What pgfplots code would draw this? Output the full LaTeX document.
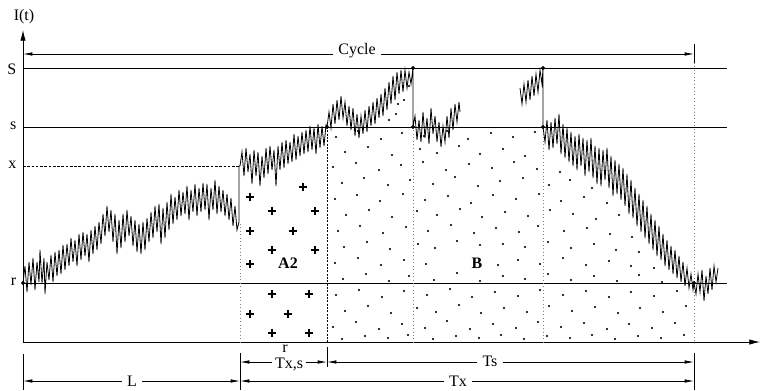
\documentclass[border=0pt]{standalone}
\usepackage{pgfplots}
\pgfplotsset{compat=1.18}
\usepackage{fontspec}
\setmainfont{Liberation Serif}
\usetikzlibrary{arrows.meta}
\newcommand{\fs}{\fontsize{12}{14}\selectfont}
\begin{document}
\begin{tikzpicture}
\begin{axis}[hide axis, scale only axis, width=572.25pt, height=292.5pt,
  xmin=0, xmax=763, ymin=0, ymax=390, y dir=reverse, clip=false,
  every axis plot/.append style={line width=0.6pt}]
\addplot[draw=none] coordinates {(0,0) (763,390)};
% axes
\addplot[black, -{Latex[length=8pt,width=4pt]}] coordinates {(23,342) (23,30)};
\addplot[black, -{Latex[length=8pt,width=4pt]}] coordinates {(23,342) (760,342)};
% level lines
\addplot[black] coordinates {(23,68) (727,68)};
\addplot[black] coordinates {(23,127) (727,127)};
\addplot[black] coordinates {(23,283) (727,283)};
\addplot[black, dash pattern=on 2pt off 1.2pt, line width=0.5pt] coordinates {(23,166) (239,166)};
% vertical guide lines
\addplot[gray, dotted, line width=0.7pt] coordinates {(240,224) (240,342)};
\addplot[black, dash pattern=on 1.5pt off 1pt, line width=0.6pt] coordinates {(327,127) (327,342)};
\addplot[gray, dotted, line width=0.7pt] coordinates {(413,127) (413,342)};
\addplot[gray, dotted, line width=0.7pt] coordinates {(543,127) (543,342)};
\addplot[gray, dotted, line width=0.7pt] coordinates {(694,63) (694,342)};
% dots texture (region B)
\addplot[only marks, mark=*, mark size=0.45pt, black] coordinates {
(396,114) (404,100) (409,86) (389,120) (398,104)
(336,137) (358,131) (381,139) (402,133) (424,136) (447,131) (468,139) (491,133) (513,137) (535,132)
(345,152) (368,147) (392,155) (420,149) (437,153) (459,146) (480,154) (503,149) (525,156)
(333,167) (356,163) (379,170) (401,165) (423,162) (446,170) (469,164) (492,168) (514,162) (537,169) (560,172)
(342,183) (364,178) (388,185) (410,180) (433,184) (455,177) (478,186) (500,181) (523,178) (549,185) (570,180) (592,188)
(335,199) (357,195) (380,201) (403,194) (425,200) (448,196) (471,203) (493,195) (516,199) (539,194) (561,201) (584,197) (607,203)
(346,215) (369,210) (392,217) (417,211) (437,215) (460,209) (482,217) (505,212) (528,216) (550,210) (573,214) (596,219) (619,215)
(338,231) (360,226) (383,233) (406,227) (428,231) (451,225) (474,233) (496,228) (519,232) (538,226) (564,231) (587,228) (610,234) (632,237)
(344,247) (367,242) (390,249) (418,244) (435,248) (457,241) (480,245) (503,244) (525,247) (548,242) (571,248) (594,244) (616,250) (639,252)
(335,263) (358,258) (381,265) (404,260) (426,264) (498,265) (518,260) (540,264) (563,258) (586,265) (609,261) (631,266) (654,268)
(343,279) (366,274) (389,281) (409,276) (434,280) (457,273) (480,281) (503,276) (525,279) (548,274) (571,280) (594,276) (617,281) (639,275) (662,282)
(336,295) (359,290) (382,297) (404,291) (427,295) (450,289) (472,297) (495,292) (518,296) (540,290) (563,295) (586,291) (609,297) (631,292) (654,296) (677,291)
(345,311) (368,306) (391,313) (417,308) (436,312) (459,305) (481,313) (504,308) (527,312) (549,306) (572,311) (595,307) (618,313) (640,308) (663,312) (686,306)
(333,327) (356,322) (379,329) (402,324) (425,328) (447,321) (470,329) (493,324) (516,328) (538,322) (561,327) (584,323) (607,329) (629,324) (652,328) (675,323)
(342,339) (365,336) (388,338) (408,335) (433,339) (456,336) (479,338) (501,335) (524,339) (547,336) (570,338) (592,335) (615,339) (638,336) (661,338) (684,335)
};
% plus markers (region A2)
\addplot[only marks, mark=+, mark size=3.2pt, line width=1pt, black] coordinates {
(303,187) (250,197) (272,211) (315,211) (250,231) (293,231) (272,250) (315,250) (250,264)
(272,294) (309,294) (250,314) (288,314) (272,333) (309,333)
};
% inventory path: segments 1-4
\addplot[black] coordinates {
(23,283) (25,266) (27,292) (29,262) (31,285) (33,258) (35,290) (37,262) (39,282) (40,250) (42,283) (44,258) (45,294) (47,262) (49,280) (51,255) (53,282) (55,252) (57,276) (59,250) (61,274) (63,245) (65,270) (67,244) (69,266) (71,238) (73,262) (75,240) (77,266) (79,234) (81,260) (83,232) (85,256) (87,234) (89,262) (91,230) (93,254) (95,226) (97,250) (99,222) (101,244) (103,214) (105,236) (107,206) (109,232) (111,210) (113,242) (115,214) (117,254) (119,220) (121,248) (123,214) (125,242) (127,210) (129,236) (131,216) (133,246) (135,220) (137,252) (139,224) (141,254) (143,222) (145,250) (147,218) (149,242) (151,212) (153,238) (155,206) (157,232) (159,204) (161,244) (163,208) (165,238) (167,202) (169,230) (171,194) (173,224) (175,197) (177,220) (179,190) (181,216) (183,192) (185,214) (187,186) (189,220) (191,190) (193,212) (195,184) (197,216) (199,188) (201,212) (203,183) (205,210) (207,184) (209,220) (211,188) (213,210) (215,180) (217,214) (219,186) (221,212) (223,190) (225,216) (227,194) (229,220) (231,198) (233,226) (235,206) (237,230) (239,222) (239,166)
(240,166) (242,152) (244,176) (246,148) (248,172) (250,154) (252,184) (254,150) (256,176) (258,152) (260,186) (262,156) (264,178) (266,148) (268,174) (270,146) (272,170) (274,150) (276,186) (278,146) (280,170) (282,142) (284,168) (286,140) (288,164) (290,142) (292,162) (294,134) (296,160) (298,136) (300,156) (302,132) (304,154) (306,130) (308,152) (310,126) (312,150) (314,128) (316,154) (318,124) (320,148) (322,126) (324,146) (326,125) (327,127)
(329,112) (331,128) (333,104) (335,124) (337,100) (339,120) (341,96) (343,118) (345,102) (347,126) (349,106) (351,130) (353,108) (355,136) (357,114) (359,138) (361,116) (363,134) (365,110) (367,132) (369,106) (371,126) (373,102) (375,124) (377,98) (379,118) (381,94) (383,116) (385,88) (387,110) (389,82) (391,104) (393,76) (395,100) (397,72) (399,94) (401,70) (403,92) (405,70) (407,88) (409,72) (411,84) (413,68) (413,127)
(415,116) (417,140) (419,120) (421,142) (423,112) (425,138) (427,118) (429,144) (431,108) (433,134) (435,116) (437,142) (439,122) (441,147) (443,126) (445,142) (447,116) (449,138) (451,108) (453,130) (455,104) (457,122) (459,102) (460,112)
};
% inventory path: segments 5-6
\addplot[black] coordinates {
(520,88) (522,104) (524,84) (526,102) (528,80) (530,100) (532,76) (534,96) (536,74) (538,92) (540,70) (542,84) (543,68) (543,127)
(545,142) (547,120) (549,150) (551,122) (553,148) (555,118) (557,144) (559,114) (561,154) (563,124) (565,158) (567,128) (569,162) (571,132) (573,166) (575,136) (577,170) (579,134) (581,166) (583,138) (585,176) (587,140) (589,172) (591,138) (593,178) (595,146) (597,184) (599,148) (601,186) (603,150) (605,180) (607,148) (609,188) (611,156) (613,196) (615,160) (617,194) (619,164) (621,200) (623,168) (625,206) (627,174) (629,214) (631,180) (633,218) (635,188) (637,226) (639,194) (641,232) (643,200) (645,238) (647,206) (649,244) (651,214) (653,250) (655,220) (657,256) (659,226) (661,260) (663,234) (665,266) (667,240) (669,270) (671,246) (673,274) (675,250) (677,278) (679,256) (681,282) (683,262) (685,286) (687,268) (689,288) (691,274) (693,290) (694,283) (696,294) (698,274) (700,292) (702,270) (704,301) (706,276) (708,294) (710,268) (712,290) (714,266) (716,282) (718,268)
};
% key points
\addplot[only marks, mark=*, mark size=1.1pt, black] coordinates {
(23,283) (327,127) (413,68) (413,127) (543,68) (543,127) (694,283)
};
% dimension lines
\addplot[black, line width=0.5pt, {Latex[length=7pt,width=2.6pt]}-{Latex[length=7pt,width=2.6pt]}] coordinates {(23,54) (694,54)};
\addplot[black, line width=0.5pt] coordinates {(694,44) (694,63)};
\addplot[black, line width=0.5pt, {Latex[length=7pt,width=2.6pt]}-{Latex[length=7pt,width=2.6pt]}] coordinates {(240,362) (327,362)};
\addplot[black, line width=0.5pt, {Latex[length=7pt,width=2.6pt]}-{Latex[length=7pt,width=2.6pt]}] coordinates {(327,362) (694,362)};
\addplot[black, line width=0.5pt, {Latex[length=7pt,width=2.6pt]}-{Latex[length=7pt,width=2.6pt]}] coordinates {(23,381) (240,381)};
\addplot[black, line width=0.5pt, {Latex[length=7pt,width=2.6pt]}-{Latex[length=7pt,width=2.6pt]}] coordinates {(240,381) (694,381)};
\addplot[black, line width=0.5pt] coordinates {(23,354) (23,390)};
\addplot[black, line width=0.5pt] coordinates {(240,353) (240,390)};
\addplot[black, line width=0.5pt] coordinates {(327,347) (327,367)};
\addplot[black, line width=0.5pt] coordinates {(694,353) (694,390)};
% labels
\node[font=\fs] at (axis cs:24,17) {I(t)};
\node[font=\fs, anchor=east] at (axis cs:21,69) {S};
\node[font=\fs, anchor=east] at (axis cs:21,126) {s};
\node[font=\fs, anchor=east] at (axis cs:21,165) {x};
\node[font=\fs, anchor=east] at (axis cs:21,282) {r};
\node[font=\fs, fill=white, inner xsep=4pt, inner ysep=1pt] at (axis cs:357,51) {Cycle};
\node[font=\fs\bfseries] at (axis cs:288,263) {A2};
\node[font=\fs\bfseries] at (axis cs:477,263) {B};
\node[font=\fs, fill=white, inner xsep=4pt, inner ysep=1pt] at (axis cs:132,381) {L};
\node[font=\fs, fill=white, inner xsep=4pt, inner ysep=1pt] at (axis cs:458,381) {Tx};
\node[font=\fs, fill=white, inner xsep=4pt, inner ysep=1pt] at (axis cs:490,361) {Ts};
\node[font=\fs, fill=white, inner xsep=2pt, inner ysep=0pt] at (axis cs:289,364) {Tx,s};
\node[font=\fs, inner sep=0pt] at (axis cs:285,349) {r};
\end{axis}
\end{tikzpicture}
\end{document}
